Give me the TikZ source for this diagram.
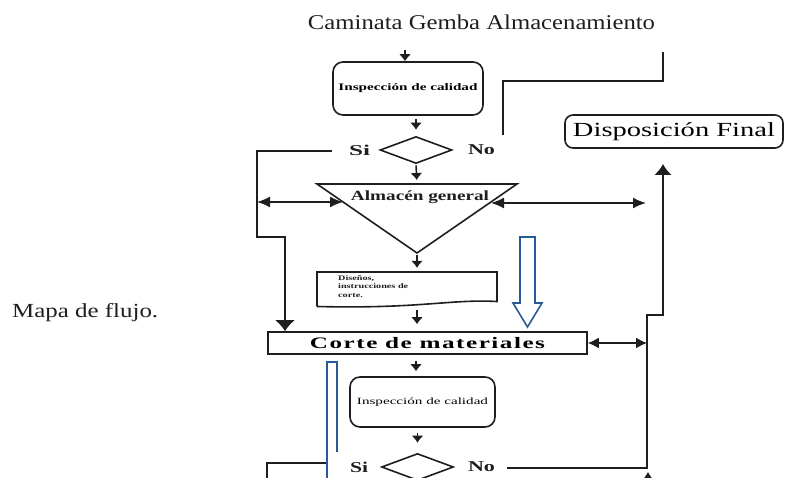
\documentclass[tikz,border=0pt]{standalone}
\usepackage{fontspec}
\setmainfont{Liberation Serif}
\usepackage{graphicx}
\usetikzlibrary{arrows.meta,shapes.geometric}

% set text at its natural height, stretched to a given width
\newcommand{\fitw}[2]{\resizebox{#1}{\height}{#2}}

\definecolor{ink}{RGB}{30,30,30}
\definecolor{flowblue}{RGB}{40,90,155}

\begin{document}
\begin{tikzpicture}[x=1pt,y=-1pt,
  line/.style={line width=1.6pt, draw=ink},
  thick line/.style={line width=2.4pt, draw=ink},
  sarrow/.style={line, -{Latex[length=7pt,width=12pt]}},
  darrow/.style={line, {Latex[length=13pt,width=11pt]}-{Latex[length=13pt,width=11pt]}},
  bigarrow/.style={-{Latex[length=11pt,width=20pt]}},
  roundbox/.style={line, rounded corners=10pt, inner sep=0pt},
  decision/.style={diamond, line, inner sep=0pt, minimum width=72pt, minimum height=27pt},
  label/.style={inner sep=0pt, text=ink},
]
\useasboundingbox (0,0) rectangle (785,478);
\clip (0,0) rectangle (785,478);

% captions
\node[label, anchor=base] (title) at (481.5,30)
  {\fitw{347pt}{\fontsize{21}{21}\selectfont Caminata Gemba Almacenamiento}};
\node[label, anchor=base west] (mapa) at (12,318)
  {\fitw{146pt}{\fontsize{20}{20}\selectfont Mapa de flujo.}};

% first inspection and decision
\node[roundbox, minimum width=150pt, minimum height=53pt] (insp1) at (408,88.5)
  {\fitw{139pt}{\fontsize{10}{10}\selectfont\bfseries Inspección de calidad}};
\node[decision] (d1) at (416,150) {};
\node[label] (si1) at (359.5,150) {\fitw{21pt}{\fontsize{15}{15}\selectfont\bfseries Si}};
\node[label] (no1) at (481.5,150) {\fitw{27pt}{\fontsize{15}{15}\selectfont\bfseries No}};

% general store (inverted triangle)
\coordinate (triL) at (317,184);
\coordinate (triR) at (517,184);
\coordinate (triA) at (417,253);
\coordinate (triT) at (417,184);
\draw[line, line join=miter] (triL) -- (triR) -- (triA) -- cycle;
\node[label] (alm) at (420,197)
  {\fitw{138pt}{\fontsize{14}{14}\selectfont\bfseries Almacén general}};

% cutting documents (document shape)
\node[inner sep=0pt, minimum width=180pt, minimum height=35pt] (doc) at (407,289.5) {};
\draw[line] (317,306.5) -- (317,272) -- (497,272) -- (497,301.5)
  .. controls (450,299) and (420,309) .. (317,306.5);
\node[label, anchor=north west] (doctext) at (338,274)
  {\fitw{70pt}{\fontsize{7}{8.5}\selectfont\bfseries
   \begin{tabular}{@{}l@{}}Diseños,\\ instrucciones de\\ corte.\end{tabular}}};

% cutting of materials
\node[line, rectangle, minimum width=319pt, minimum height=22pt, inner sep=0pt] (corte) at (427.5,343)
  {\fitw{235pt}{\fontsize{16}{16}\selectfont\bfseries\addfontfeature{LetterSpace=6}Corte de materiales}};

% second inspection and decision
\node[roundbox, minimum width=145pt, minimum height=50pt] (insp2) at (422.5,402)
  {\fitw{131pt}{\fontsize{9.5}{9.5}\selectfont Inspección de calidad}};
\node[decision] (d2) at (417.5,467) {};
\node[label] (si2) at (359,467) {\fitw{18pt}{\fontsize{15}{15}\selectfont\bfseries Si}};
\node[label] (no2) at (481.5,467) {\fitw{27pt}{\fontsize{15}{15}\selectfont\bfseries No}};

% final disposition
\node[line, rounded corners=8pt, minimum width=218pt, minimum height=33pt, inner sep=0pt] (disp) at (674,131.5)
  {\fitw{202pt}{\fontsize{20}{20}\selectfont Disposición Final}};

% main vertical flow
\coordinate (in1) at (405,50);
\draw[sarrow] (in1) -- (in1 |- insp1.north);
\draw[sarrow, shorten <=3pt, shorten >=6pt] (d1.north |- insp1.south) -- (d1.north);
\draw[sarrow, shorten <=1pt, shorten >=4pt] (d1.south) -- (triT);
\draw[sarrow, shorten <=2pt, shorten >=4pt] (triA) -- (doc.north -| triA);
\draw[sarrow, shorten <=3pt, shorten >=7pt] (doc.south -| triA) -- (corte.north -| triA);
\draw[sarrow, shorten <=6pt, shorten >=5pt] (corte.south -| d1.south) -- (insp2.north -| d1.south);
\draw[sarrow, shorten <=5pt, shorten >=10pt] (insp2.south -| d2.north) -- (d2.north);

% "Si" branch of the first decision
\coordinate (siL) at (257,151);
\coordinate (siB) at (257,237);
\coordinate (siC) at (285,237);
\draw[line, bigarrow] ([xshift=-17pt]si1.west |- siL) -- (siL) -- (siB) -- (siC) -- (siC |- corte.north);
\coordinate (almL) at (257,202);
\coordinate (almLe) at (343,202);
\draw[darrow] (almL) -- (almLe);

% "No" branch of the first decision
\coordinate (noT) at (663,52);
\coordinate (noK) at (663,81);
\coordinate (noJ) at (503,81);
\coordinate (noE) at (503,135);
\draw[line] (noT) -- (noK) -- (noJ) -- (noE);

% exchanges with the right-hand return line
\coordinate (almRe) at (491,203);
\coordinate (almR) at (646,203);
\draw[darrow] (almRe) -- (almR);
\coordinate (corR) at (647,343);
\draw[line, {Latex[length=11pt,width=11pt]}-{Latex[length=11pt,width=11pt]}] (corte.east) -- (corR);

% return line to the final disposition
\coordinate (retA) at (507,468);
\coordinate (retB) at (647,468);
\coordinate (retC) at (647,315);
\coordinate (retD) at (663,315);
\coordinate (retE) at (663,164);
\draw[thick line, -{Latex[length=11pt,width=18pt]}] (retA) -- (retB) -- (retC) -- (retD) -- (retE);
\coordinate (lowUp) at (648,500);
\coordinate (lowTip) at (648,472);
\draw[thick line, -{Latex[length=11pt,width=18pt]}] (lowUp) -- (lowTip);

% hollow blue flow arrow
\draw[line width=1.6pt, draw=flowblue, fill=white, line join=miter]
  (520,237) -- (535,237) -- (535,303) -- (542,303) -- (527.5,327)
  -- (513,303) -- (520,303) -- cycle;

% blue flow tail beside the second inspection
\draw[line width=2pt, draw=flowblue] (327,490) -- (327,362) -- (337,362) -- (337,452);

% "Si" branch of the second decision
\coordinate (si2K) at (267,463);
\coordinate (si2E) at (326,463);
\draw[line] (267,490) -- (si2K) -- (si2E);
\end{tikzpicture}
\end{document}
